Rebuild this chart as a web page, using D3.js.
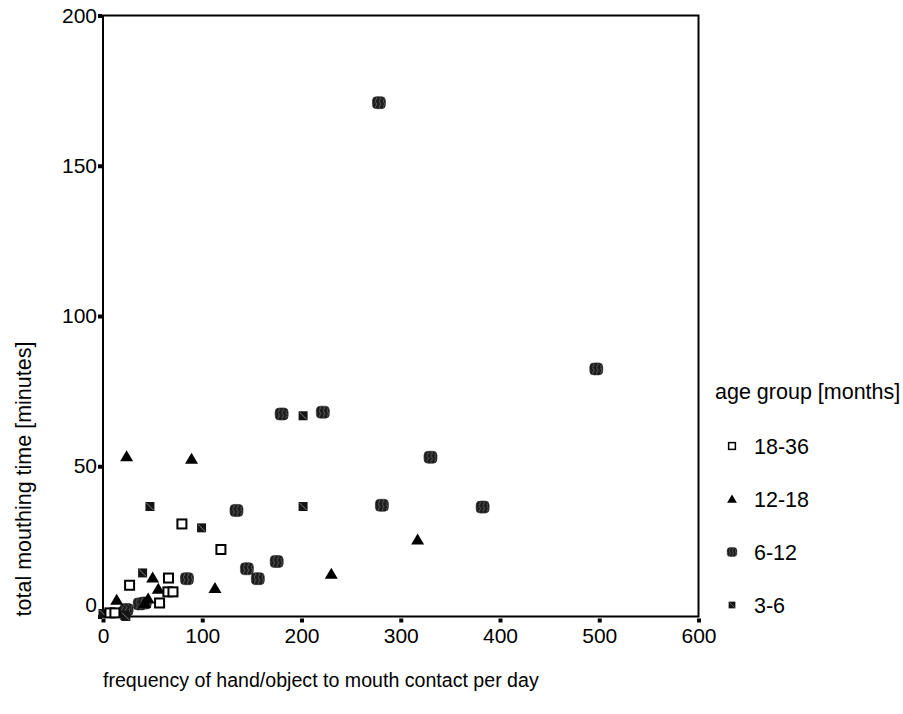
<!DOCTYPE html>
<html lang="en">
<head>
    <meta charset="UTF-8">
    <title>Mouthing time vs frequency</title>
    <script src="https://d3js.org/d3.v7.min.js"></script>
    <style>
        body { margin: 0; background: #fff; }
        text { font-family: "Liberation Sans", Arial, sans-serif; fill: #000; }
        .axis text { font-size: 21px; }
        .axis path { display: none; }
        .xtitle { font-size: 19.6px; }
        .ytitle { font-size: 21.5px; }
        .ltitle { font-size: 21.5px; }
        .legend text { font-size: 21.5px; }
    </style>
</head>
<body>
    <svg width="903" height="714"></svg>

    <script>
        // values: [frequency per day, minutes]
        const group18to36 = [[79.5, 30.8], [118.8, 22.3], [66, 12.8], [26.8, 10.4], [65.4, 8.2],
            [70.5, 8.2], [57, 4.5], [7, 1.2], [12, 1.2]];
        const group12to18 = [[23.8, 53.3], [89.2, 52.5], [317, 25.6], [230, 14.2], [112.8, 9.5],
            [50, 13], [55.7, 9.2], [13.8, 5.6], [45.5, 6], [42, 4.5]];
        const group6to12 = [[278, 171], [497, 82.4], [180, 67.4], [221.5, 68], [330, 53], [281, 37],
            [382.5, 36.4], [134.5, 35.3], [84.6, 12.6], [145, 15.9], [156, 12.6], [175, 18.3],
            [23.8, 2.3], [37, 4.2], [42, 4.5], [22, 1.5]];
        const group3to6 = [[201.6, 66.8], [201.6, 36.6], [47.3, 36.6], [99.3, 29.5], [39.9, 14.5],
            [0, 1], [22, 0.3], [23, 0]];

        const legendLabels = ['18-36', '12-18', '6-12', '3-6'];
        const xTicks = [0, 100, 200, 300, 400, 500, 600];
        const yTicks = [0, 50, 100, 150, 200];

        const svg = d3.select('svg');

        const x = d3.scaleLinear().domain([0, 600]).range([103, 698.5]);
        const y = d3.scaleLinear().domain([0, 200]).range([616.5, 15.5]);

        // pattern for the 6-12 markers
        const defs = svg.append('defs');
        const wave = defs.append('pattern')
            .attr('id', 'wave')
            .attr('patternUnits', 'userSpaceOnUse')
            .attr('width', 4).attr('height', 6);
        wave.append('rect').attr('width', 4).attr('height', 6).attr('fill', '#1a1a1a');
        wave.append('path')
            .attr('d', 'M1,0 Q3,1.5 1,3 Q-1,4.5 1,6')
            .attr('fill', 'none').attr('stroke', '#7a7a7a').attr('stroke-width', 0.8);

        // frame
        svg.append('rect')
            .attr('x', x(0)).attr('y', y(200))
            .attr('width', x(600) - x(0)).attr('height', y(0) - y(200))
            .attr('fill', 'none').attr('stroke', '#000').attr('stroke-width', 2);

        // axes
        const xAxis = svg.append('g')
            .attr('class', 'axis')
            .attr('transform', `translate(0,${y(0)})`)
            .call(d3.axisBottom(x).tickValues(xTicks).tickSize(0).tickPadding(12));
        xAxis.selectAll('.tick').append('rect')
            .attr('x', -2).attr('y', 2).attr('width', 4).attr('height', 4).attr('fill', '#000');

        const yAxis = svg.append('g')
            .attr('class', 'axis')
            .attr('transform', `translate(${x(0)},0)`)
            .call(d3.axisLeft(y).tickValues(yTicks).tickSize(0).tickPadding(6));
        yAxis.selectAll('.tick').append('rect')
            .attr('x', -5).attr('y', -2).attr('width', 4).attr('height', 4).attr('fill', '#000');
        // the zero label sits a little higher in the original
        yAxis.selectAll('.tick text').filter(d => d === 0).attr('y', -12);

        function drawMarker(g, kind) {
            if (kind === '18-36') {
                g.append('rect').attr('x', -4.5).attr('y', -4.5).attr('width', 9).attr('height', 9)
                    .attr('fill', '#fff').attr('stroke', '#000').attr('stroke-width', 2);
            } else if (kind === '12-18') {
                g.append('path').attr('d', 'M0,-6 L6.5,5 L-6.5,5 Z').attr('fill', '#000');
            } else if (kind === '6-12') {
                g.append('rect').attr('x', -6.5).attr('y', -6).attr('width', 13).attr('height', 12)
                    .attr('rx', 4).attr('fill', 'url(#wave)').attr('stroke', '#222').attr('stroke-width', 0.6);
            } else {
                g.append('rect').attr('x', -4.5).attr('y', -4.5).attr('width', 9).attr('height', 9)
                    .attr('fill', '#141414');
                g.append('line').attr('x1', -3.5).attr('y1', -3.5).attr('x2', 3.5).attr('y2', 3.5)
                    .attr('stroke', '#999').attr('stroke-width', 0.8);
            }
        }

        const groups = [
            { name: '6-12', values: group6to12 },
            { name: '3-6', values: group3to6 },
            { name: '12-18', values: group12to18 },
            { name: '18-36', values: group18to36 }
        ];

        groups.forEach(grp => {
            svg.append('g').selectAll('g')
                .data(grp.values)
                .enter()
                .append('g')
                .attr('transform', d => `translate(${x(d[0])},${y(d[1])})`)
                .each(function () { drawMarker(d3.select(this), grp.name); });
        });

        // axis titles
        svg.append('text')
            .attr('class', 'xtitle')
            .attr('x', x(0))
            .attr('y', 687)
            .text('frequency of hand/object to mouth contact per day');

        svg.append('text')
            .attr('class', 'ytitle')
            .attr('transform', 'translate(31,479) rotate(-90)')
            .attr('text-anchor', 'middle')
            .text('total mouthing time [minutes]');

        // legend
        svg.append('text')
            .attr('class', 'ltitle')
            .attr('x', 715)
            .attr('y', 399)
            .text('age group [months]');

        const legend = svg.selectAll('.legend')
            .data(legendLabels)
            .enter()
            .append('g')
            .attr('class', 'legend')
            .attr('transform', (d, i) => `translate(732,${446 + i * 53})`);

        legend.each(function (d) {
            const g = d3.select(this).append('g').attr('transform', 'scale(0.75)');
            drawMarker(g, d);
        });

        legend.append('text')
            .attr('x', 22)
            .attr('dy', '0.35em')
            .text(d => d);
    </script>
</body>
</html>
